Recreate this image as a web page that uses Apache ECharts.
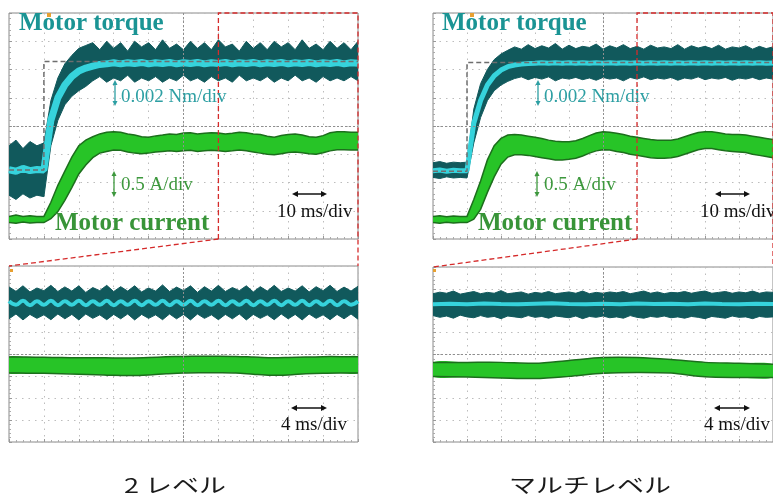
<!DOCTYPE html>
<html>
<head>
<meta charset="utf-8">
<script src="https://cdn.jsdelivr.net/npm/echarts@6/dist/echarts.min.js"></script>
<style>html,body{margin:0;background:#fff}#main{width:773px;height:501px}</style>
</head>
<body>
<div id="main"></div>
<script>
// all values in scope divisions: x 0..10 div, y 0..8 div
// sample times (div)
var T = [0,0.2,0.4,0.6,0.8,1,1.2,1.4,1.6,1.8,2,2.2,2.4,2.6,2.8,3,3.2,3.4,3.6,3.8,4,4.2,4.4,4.6,4.8,5,
  5.2,5.4,5.6,5.8,6,6.2,6.4,6.6,6.8,7,7.2,7.4,7.6,7.8,8,8.2,8.4,8.6,8.8,9,9.2,9.4,9.6,9.8,10];
var H = [0,0.5,1,1.5,2,2.5,3,3.5,4,4.5,5,5.5,6,6.5,7,7.5,8,8.5,9,9.5,10];
var S = [0,1,2,3,4,5,6,7,8,9,10];

// command step (grey dashed)
var cmdX = [0, 1, 1, 10];
var tlCmd = [2.44, 2.44, 6.28, 6.28];
var trCmd = [2.4, 2.4, 6.25, 6.25];

// 2-level, 10 ms/div
var tlTqHi = [3.3,3.5,3.2,3.45,3.3,3.4, 4.9,5.7,6.2,6.5,6.75,6.85,
  6.95,6.7,7.0,6.75,6.95,6.65,7.0,6.8,6.95,6.7, 7.05,6.75,6.9,6.7,7.0,6.75,6.95,6.7,7.05,6.8,
  6.9,6.65,7.0,6.75,6.95,6.7,7.0,6.8,6.95,6.7, 7.05,6.75,6.9,6.7,7.0,6.75,6.95,6.7,7.0];
var tlTqLo = [1.55,1.4,1.6,1.45,1.55,1.5, 3.3,4.2,4.75,5.05,5.25,5.4,
  5.6,5.75,5.55,5.7,5.6,5.8,5.55,5.7,5.6,5.75, 5.55,5.7,5.6,5.8,5.6,5.7,5.55,5.75,5.6,5.7,
  5.55,5.8,5.6,5.7,5.6,5.75,5.55,5.7,5.6,5.8, 5.6,5.7,5.55,5.75,5.6,5.7,5.6,5.75,5.6];
var tlTqMid = [2.45,2.4,2.5,2.42,2.46,2.44, 4.2,5.0,5.45,5.75,5.95,6.05,
  6.12,6.18,6.2,6.24,6.2,6.24,6.21,6.25,6.2,6.24, 6.21,6.25,6.2,6.24,6.21,6.25,6.2,6.24,6.21,6.25,
  6.2,6.24,6.21,6.25,6.2,6.24,6.21,6.25,6.2,6.24, 6.21,6.25,6.2,6.24,6.21,6.25,6.2,6.24,6.22];
var tlCuHi = [0.8,0.85,0.8,0.82,0.8,0.8, 1.3,1.9,2.4,2.9,3.3,3.5,3.62,3.72,3.78,3.8,
  3.78,3.72,3.68,3.62,3.6,3.65,3.68,3.72,3.7,3.75, 3.76,3.72,3.74,3.76,3.75,3.72,3.74,3.78,3.76,3.72,
  3.7,3.64,3.6,3.66,3.7,3.72,3.68,3.62,3.6,3.66, 3.76,3.8,3.8,3.78,3.78];
var tlCuLo = [0.58,0.56,0.6,0.57,0.58,0.58, 0.72,0.97,1.37,1.82,2.3,2.62,2.88,3.04,3.1,3.15,
  3.14,3.08,3.04,3.02,3.04,3.08,3.1,3.12,3.1,3.12, 3.14,3.1,3.12,3.14,3.12,3.1,3.12,3.15,3.12,3.08,
  3.04,3.0,2.98,3.02,3.06,3.08,3.05,3.02,3.0,3.05, 3.12,3.16,3.16,3.15,3.15];

// multilevel, 10 ms/div
var trTqHi = [2.7,2.74,2.68,2.72,2.7,2.72, 4.6,5.5,6.0,6.35,6.55,6.68,
  6.8,6.72,6.88,6.74,6.84,6.76,6.92,6.72,6.86,6.74, 6.82,6.78,6.9,6.72,6.84,6.76,6.88,6.74,6.82,6.72,
  6.86,6.76,6.8,6.74,6.88,6.72,6.84,6.76,6.82,6.74, 6.86,6.72,6.8,6.76,6.84,6.72,6.82,6.74,6.8];
var trTqLo = [2.18,2.14,2.2,2.16,2.18,2.16, 3.4,4.3,4.9,5.25,5.45,5.58,
  5.68,5.74,5.64,5.72,5.66,5.74,5.6,5.7,5.66,5.72, 5.64,5.7,5.62,5.72,5.66,5.7,5.6,5.72,5.66,5.74,
  5.64,5.7,5.66,5.72,5.62,5.7,5.66,5.74,5.64,5.7, 5.66,5.72,5.62,5.7,5.66,5.72,5.64,5.7,5.66];
var trTqMid = [2.42,2.44,2.4,2.43,2.42,2.42, 4.1,4.9,5.45,5.78,5.98,6.1,
  6.16,6.19,6.21,6.22,6.24,6.22,6.24,6.22,6.24,6.22, 6.24,6.22,6.24,6.22,6.24,6.22,6.24,6.22,6.24,6.22,
  6.24,6.22,6.24,6.22,6.24,6.22,6.24,6.22,6.24,6.22, 6.24,6.22,6.24,6.22,6.24,6.22,6.24,6.22,6.23];
var trCuHi = [0.8,0.82,0.79,0.81,0.8,0.8, 1.4,2.05,2.8,3.3,3.56,3.68,3.7,3.68,3.64,3.6,
  3.56,3.5,3.46,3.44,3.44,3.48,3.56,3.66,3.75,3.8, 3.78,3.74,3.7,3.64,3.6,3.56,3.52,3.5,3.5,3.5,
  3.54,3.62,3.7,3.77,3.8,3.8,3.76,3.72,3.7,3.7, 3.68,3.64,3.6,3.56,3.52];
var trCuLo = [0.58,0.56,0.59,0.57,0.58,0.58, 0.7,1.05,1.65,2.2,2.65,2.9,2.98,2.98,2.96,2.92,
  2.88,2.84,2.8,2.8,2.82,2.86,2.94,3.04,3.12,3.16, 3.15,3.1,3.06,3.0,2.96,2.92,2.88,2.86,2.86,2.88,
  2.92,3.0,3.08,3.16,3.2,3.2,3.16,3.12,3.1,3.08, 3.06,3.0,2.96,2.92,2.88];

// 2-level, 4 ms/div
var blTqHi = [7.05,6.85,7.1,6.82,7.0,6.88,7.12,6.84,7.05,6.86, 7.1,6.8,7.02,6.88,7.12,6.84,7.06,6.86,7.1,6.82,
  7.0,6.86,7.14,6.84,7.04,6.88,7.1,6.8,7.06,6.86, 7.12,6.84,7.02,6.88,7.1,6.82,7.06,6.86,7.12,6.84,
  7.0,6.86,7.1,6.82,7.06,6.88,7.12,6.84,7.04,6.86,7.08];
var blTqLo = [5.6,5.82,5.55,5.8,5.62,5.78,5.56,5.82,5.6,5.8, 5.55,5.82,5.62,5.78,5.56,5.8,5.6,5.82,5.55,5.8,
  5.62,5.78,5.56,5.82,5.6,5.8,5.55,5.82,5.62,5.78, 5.56,5.8,5.6,5.82,5.55,5.8,5.62,5.78,5.56,5.82,
  5.6,5.8,5.55,5.82,5.62,5.78,5.56,5.8,5.6,5.82,5.58];
var blTqMid = [6.4,6.24,6.42,6.22,6.4,6.24,6.42,6.22,6.4,6.24, 6.42,6.22,6.4,6.24,6.42,6.22,6.4,6.24,6.42,6.22,
  6.4,6.24,6.42,6.22,6.4,6.24,6.42,6.22,6.4,6.24, 6.42,6.22,6.4,6.24,6.42,6.22,6.4,6.24,6.42,6.22,
  6.4,6.24,6.42,6.22,6.4,6.24,6.42,6.22,6.4,6.24,6.4];
var blCuHi = [3.86,3.86,3.85,3.84,3.83,3.83,3.82,3.82,3.84,3.87,3.89,3.9,3.9,3.89,3.86,3.83,3.84,3.86,3.88,3.88,3.87];
var blCuLo = [3.14,3.13,3.12,3.1,3.08,3.06,3.03,3.02,3.05,3.1,3.14,3.15,3.15,3.14,3.08,3.03,3.05,3.1,3.13,3.14,3.14];

// multilevel, 4 ms/div
var brTqHi = [6.78,6.85,6.8,6.9,6.76,6.82,6.88,6.78,6.84,6.8, 6.92,6.78,6.82,6.86,6.76,6.84,6.8,6.88,6.78,6.82,
  6.86,6.8,6.9,6.78,6.84,6.8,6.86,6.82,6.88,6.78, 6.84,6.9,6.8,6.86,6.78,6.84,6.82,6.88,6.8,6.86,
  6.9,6.8,6.84,6.88,6.8,6.86,6.82,6.9,6.8,6.86,6.84];
var brTqLo = [5.78,5.7,5.76,5.66,5.8,5.72,5.68,5.78,5.7,5.74, 5.64,5.76,5.72,5.68,5.78,5.7,5.74,5.66,5.76,5.72,
  5.68,5.76,5.64,5.74,5.7,5.76,5.68,5.72,5.66,5.78, 5.7,5.66,5.74,5.7,5.76,5.68,5.72,5.66,5.74,5.7,
  5.64,5.74,5.7,5.66,5.76,5.7,5.72,5.64,5.74,5.7,5.72];
var brTqMid = [6.3,6.32,6.3,6.33,6.31,6.3,6.32,6.34,6.31,6.3,6.32,6.3,6.33,6.31,6.32,6.3,6.33,6.31,6.3,6.32,6.31];
var brCuHi = [3.64,3.64,3.64,3.6,3.73,3.86,3.86,3.77,3.64,3.6,3.55];
var brCuLo = [3.0,2.97,2.93,2.9,3.0,3.14,3.18,3.15,2.98,2.95,2.95];

var TEAL = '#11595c', CYAN = '#36d3dc', GREEN = '#27c427', DKGREEN = '#1c6e1c';

var chart = echarts.init(document.getElementById('main'));

var grids = [
  {left: 9, top: 13, width: 349, height: 226},
  {left: 433, top: 13, width: 349, height: 226},
  {left: 9, top: 266, width: 349, height: 176},
  {left: 433, top: 267, width: 349, height: 175}
];

function pts(xs, ys) {
  return xs.map(function (x, i) { return [x, ys[i]]; });
}

// filled envelope between lo and hi, one polygon through the grid's scales
function band(g, xs, lo, hi, fill, edge, w, smooth) {
  return {
    type: 'custom', xAxisIndex: g, yAxisIndex: g, silent: true, z: 3, clip: true,
    encode: {x: 0, y: [1, 2]},
    data: xs.map(function (x, i) { return [x, lo[i], hi[i]]; }),
    renderItem: function (params, api) {
      if (params.dataIndex !== 0) return null;
      var up = [], dn = [];
      for (var i = 0; i < xs.length; i++) {
        up.push(api.coord([xs[i], hi[i]]));
        dn.push(api.coord([xs[i], lo[i]]));
      }
      var kids = [{type: 'polygon', shape: {points: up.concat(dn.slice().reverse())},
        style: {fill: fill, stroke: null}}];
      if (w) {
        kids.push({type: 'polyline', shape: {points: up, smooth: smooth}, style: {stroke: edge, lineWidth: w, fill: null}});
        kids.push({type: 'polyline', shape: {points: dn, smooth: smooth}, style: {stroke: edge, lineWidth: w, fill: null}});
      }
      if (smooth) kids[0].shape.smooth = smooth;
      return {type: 'group', children: kids};
    }
  };
}

function line(g, xs, ys, color, w, extra) {
  return Object.assign({type: 'line', xAxisIndex: g, yAxisIndex: g, symbol: 'none', silent: true,
    z: 4, data: pts(xs, ys), lineStyle: {color: color, width: w}}, extra || {});
}

var series = [];
for (var g = 0; g < 4; g++) {
  // scope centre cross
  series.push({type: 'line', xAxisIndex: g, yAxisIndex: g, data: [], silent: true, z: 2,
    markLine: {silent: true, symbol: 'none', label: {show: false}, animation: false,
      lineStyle: {color: '#8f8f8f', type: [2, 2], width: 1},
      data: [{xAxis: 5}, {yAxis: 4}]}});
}
var dash = {lineStyle: {color: '#6e6e6e', width: 1.5, type: [5, 3]}, z: 5};
series.push(
  band(0, T, tlTqLo, tlTqHi, TEAL, TEAL, 1, 0),
  line(0, T, tlTqMid, CYAN, 7),
  band(0, T, tlCuLo, tlCuHi, GREEN, DKGREEN, 1.5, 0),
  line(0, cmdX, tlCmd, '#6e6e6e', 1.5, dash),

  band(1, T, trTqLo, trTqHi, TEAL, TEAL, 1, 0),
  line(1, T, trTqMid, CYAN, 5),
  band(1, T, trCuLo, trCuHi, GREEN, DKGREEN, 1.5, 0),
  line(1, cmdX, trCmd, '#6e6e6e', 1.5, dash),

  band(2, T, blTqLo, blTqHi, TEAL, TEAL, 1, 0),
  line(2, T, blTqMid, CYAN, 4, {smooth: true}),
  band(2, H, blCuLo, blCuHi, GREEN, DKGREEN, 1.5, 0.3),

  band(3, T, brTqLo, brTqHi, TEAL, TEAL, 1, 0),
  line(3, H, brTqMid, CYAN, 4),
  band(3, S, brCuLo, brCuHi, GREEN, DKGREEN, 1.5, 0.3)
);

var dotted = {show: true, lineStyle: {color: '#bdbdbd', type: [1.5, 5], width: 1}};
var tick = {show: true, inside: true, length: 3, lineStyle: {color: '#999'}};
var minor = {show: true, splitNumber: 5, length: 2, lineStyle: {color: '#aaa'}};
var option = {
  backgroundColor: '#fff',
  animation: false,
  grid: grids.map(function (r) {
    return Object.assign({show: true, borderColor: '#8a8a8a', borderWidth: 1}, r);
  }),
  xAxis: grids.map(function (r, i) {
    return {gridIndex: i, type: 'value', min: 0, max: 10, interval: 1,
      axisLabel: {show: false}, axisLine: {show: false}, axisTick: tick, minorTick: minor, splitLine: dotted};
  }),
  yAxis: grids.map(function (r, i) {
    return {gridIndex: i, type: 'value', min: 0, max: 8, interval: 1,
      axisLabel: {show: false}, axisLine: {show: false}, axisTick: tick, minorTick: minor, splitLine: dotted};
  }),
  series: series
};
chart.setOption(option);

// annotations
function P(g, x, y) { return chart.convertToPixel({gridIndex: g}, [x, y]); }
function txt(x, y, s, font, color, extra) {
  return Object.assign({type: 'text', x: x, y: y, z: 20,
    style: {text: s, font: font, fill: color, align: 'left', verticalAlign: 'middle'}}, extra || {});
}
function vArrow(x, y1, y2, c) {
  return {type: 'group', z: 20, children: [
    {type: 'line', shape: {x1: x, y1: y1 + 3, x2: x, y2: y2 - 3}, style: {stroke: c, lineWidth: 1.3}},
    {type: 'polygon', shape: {points: [[x - 2.5, y1 + 5], [x + 2.5, y1 + 5], [x, y1]]}, style: {fill: c}},
    {type: 'polygon', shape: {points: [[x - 2.5, y2 - 5], [x + 2.5, y2 - 5], [x, y2]]}, style: {fill: c}}
  ]};
}
function hArrow(x1, x2, y, c) {
  return {type: 'group', z: 20, children: [
    {type: 'line', shape: {x1: x1 + 3, y1: y, x2: x2 - 3, y2: y}, style: {stroke: c, lineWidth: 1.5}},
    {type: 'polygon', shape: {points: [[x1 + 6, y - 3], [x1 + 6, y + 3], [x1, y]]}, style: {fill: c}},
    {type: 'polygon', shape: {points: [[x2 - 6, y - 3], [x2 - 6, y + 3], [x2, y]]}, style: {fill: c}}
  ]};
}

var SERIF = '"Liberation Serif", "Times New Roman", serif';
var red = {stroke: '#d52b2b', lineWidth: 1.3, lineDash: [5, 3], fill: null};
var graphics = [];
[[0, 0, 2], [423, 1, 3]].forEach(function (p) {
  var dx = p[0], top = p[1], bot = p[2];
  graphics.push({type: 'polyline', z: 18, shape: {points: [P(top, 6, 0), P(top, 6, 8), P(top, 10, 8), P(top, 10, 0), P(bot, 10, 8)]}, style: red});
  var a = P(top, 6, 0), b = P(bot, 0, 8);
  graphics.push({type: 'line', z: 18, shape: {x1: a[0], y1: a[1], x2: b[0], y2: b[1]}, style: red});
  graphics.push(txt(19 + dx, 24, 'Motor torque', 'bold 25px ' + SERIF, '#1a9494'));
  graphics.push(txt(55 + dx, 224, 'Motor current', 'bold 25px ' + SERIF, '#389438'));
  graphics.push(txt(121 + dx, 97, '0.002 Nm/div', '19px ' + SERIF, '#2d9fa3'));
  graphics.push(txt(121 + dx, 185, '0.5 A/div', '19px ' + SERIF, '#3d983d'));
  graphics.push(txt(277 + dx, 212, '10 ms/div', '19px ' + SERIF, '#111'));
  graphics.push(txt(281 + dx, 425, '4 ms/div', '19px ' + SERIF, '#111'));
  graphics.push(vArrow(115 + dx, 80, 106, '#2d9fa3'));
  graphics.push(vArrow(114 + dx, 171, 197, '#3d983d'));
  graphics.push(hArrow(292 + dx, 327 + dx, 194, '#111'));
  graphics.push(hArrow(291 + dx, 327 + dx, 408, '#111'));
  // small scope markers
  graphics.push({type: 'rect', z: 19, shape: {x: 47 + dx, y: 13, width: 4, height: 4}, style: {fill: '#e8a030'}});
  graphics.push({type: 'rect', z: 19, shape: {x: 10 + dx, y: 269, width: 3, height: 3}, style: {fill: '#e8a030'}});
});
var CJK = '"Noto Sans CJK JP", sans-serif';
function caption(x, s) {
  return {type: 'text', x: x, y: 485, z: 20, scaleX: 1.35,
    style: {text: s, font: '20px ' + CJK, fill: '#1a1a1a', align: 'center', verticalAlign: 'middle'}};
}
graphics.push(caption(175, '2 レベル'), caption(590, 'マルチレベル'));

chart.setOption({graphic: graphics});
</script>
</body>
</html>
